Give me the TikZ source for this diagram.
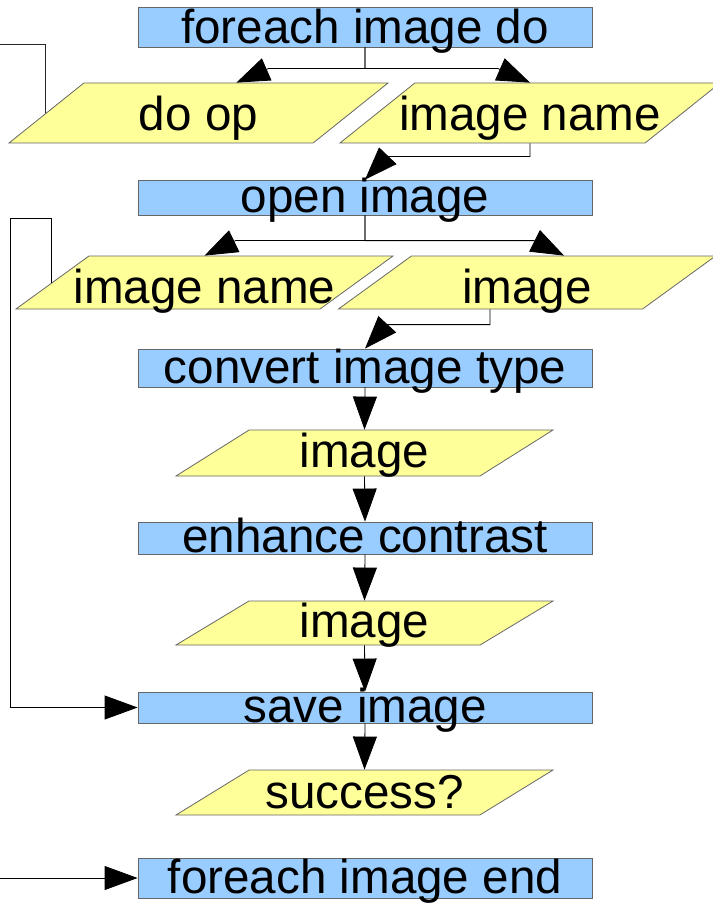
\documentclass[tikz,border=0pt]{standalone}
\usepackage{fontspec}
\setmainfont{Liberation Sans}
\usetikzlibrary{shapes.geometric,arrows.meta,calc}
\definecolor{stepblue}{HTML}{99CCFF}
\definecolor{datayellow}{HTML}{FFFF99}
\begin{document}
\begin{tikzpicture}[x=1pt,y=-1pt,
	stepbox/.style={rectangle,draw=black!60,line width=0.8pt,fill=stepblue,
		minimum width=454pt,inner sep=0pt,font=\fontsize{47.6}{48}\selectfont},
	databox/.style={trapezium,trapezium left angle=#1,trapezium right angle=180-#1,
		trapezium stretches body,draw=black!60,line width=0.8pt,fill=datayellow,
		minimum width=377pt,inner ysep=0pt,inner xsep=-60pt,font=\fontsize{47.6}{48}\selectfont},
	flow/.style={draw=black,line width=0.8pt,-{Triangle[length=33pt,width=24pt]}},
	wire/.style={draw=black!85,line width=0.8pt}]
	\useasboundingbox (0,0) rectangle (712,904);
	%\fill[white] (0,0) rectangle (712,904);
	\node[stepbox,text height=37pt,text depth=3pt] (begin) at (365,27) {foreach image do};
	\node[databox=38.7,minimum width=379pt,text height=48pt,text depth=12pt] (doop) at (198.5,113) {do op};
	\node[databox=38.7,minimum width=380pt,text height=48pt,text depth=12pt] (name) at (530,113) {image name};
	\node[stepbox,text height=32pt,text depth=3pt] (open) at (365,197.5) {open image};
	\node[databox=36,text height=47pt,text depth=6pt] (name2) at (204.5,282.5) {image name};
	\node[databox=36,text height=47pt,text depth=6pt] (img) at (527,282.5) {image};
	\node[stepbox,text height=34pt,text depth=4pt] (convert) at (365,368) {convert image type};
	\node[databox=32.2,text height=37pt,text depth=9pt] (img2) at (364.5,453) {image};
	\node[stepbox,text height=30pt,text depth=2pt] (enhance) at (365,538) {enhance contrast};
	\node[databox=31.1,text height=36pt,text depth=8pt] (img3) at (364.5,623) {image};
	\node[stepbox,text height=30pt,text depth=1pt] (save) at (365,707.5) {save image};
	\node[databox=31.6,text height=38pt,text depth=7pt] (ok) at (364.5,792.5) {success?};
	\node[stepbox,text height=35pt,text depth=5pt] (end) at (365,878) {foreach image end};
	\coordinate (offleft) at (0,44);
	\coordinate (loopleft) at (10,218);
	\coordinate (inleft) at (0,878);
	% connectors
	\draw[flow] (begin.south) |- ($(doop.top side)+(32,-14)$) -- (doop.top side);
	\draw[flow] (begin.south) |- ($(name.north)+(-32,-14)$) -- (name.north);
	\draw[flow] (name.south) |- ($(open.north)+(22,-23)$) -- (open.north);
	\draw[flow] (open.south) |- ($(name2.north)+(31,-15)$) -- (name2.north);
	\draw[flow] (open.south) |- ($(img.top side)+(-30,-15)$) -- (img.top side);
	\draw[flow] (img.bottom side) |- ($(convert.north)+(22,-24)$) -- (convert.north);
	\draw[flow] (convert.south) -- (img2.north);
	\draw[flow] (img2.south) -- (enhance.north);
	\draw[flow] (enhance.south) -- (img3.north);
	\draw[flow] (img3.south) -- (save.north);
	\draw[flow] (save.south) -- (ok.north);
	\draw[wire] (doop.left side) |- (offleft);
	\draw[flow] (name2.left side) |- (loopleft) |- (save.west);
	\draw[flow] (inleft) -- (end.west);
\end{tikzpicture}
\end{document}
